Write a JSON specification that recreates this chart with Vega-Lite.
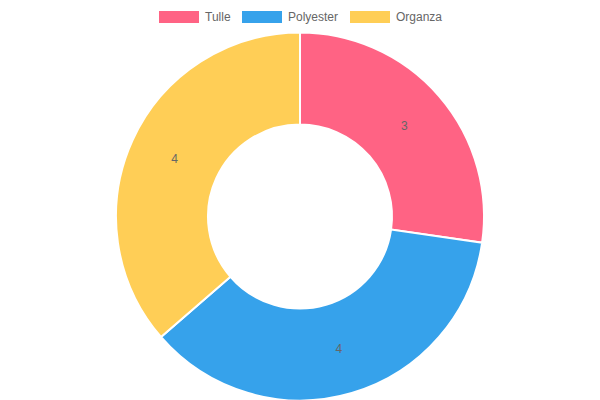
{
  "$schema": "https://vega.github.io/schema/vega-lite/v6.json",
  "autosize": {"type": "fit", "contains": "padding"},
  "width": 600,
  "height": 400,
  "padding": {"top": 33, "left": 0, "right": 0, "bottom": 0},
  "background": "white",
  "config": {"view": {"stroke": null}, "font": "Liberation Sans"},
  "data": {"values": [
    {"fabric": "Tulle", "count": 3, "idx": 1},
    {"fabric": "Polyester", "count": 4, "idx": 2},
    {"fabric": "Organza", "count": 4, "idx": 3}
  ]},
  "encoding": {
    "theta": {"field": "count", "type": "quantitative", "stack": true},
    "order": {"field": "idx", "type": "quantitative"},
    "color": {
      "field": "fabric", "type": "nominal",
      "scale": {"domain": ["Tulle", "Polyester", "Organza"], "range": ["#FF6384", "#36A2EB", "#FFCE56"]},
      "legend": {
        "orient": "none", "legendX": 159, "legendY": -36, "direction": "horizontal", "title": null,
        "symbolType": "M-1,-0.3H1V0.3H-1Z", "symbolSize": 1600,
        "symbolStrokeWidth": 0, "symbolOpacity": 1,
        "labelFontSize": 12, "labelColor": "#666666", "labelFont": "Liberation Sans",
        "columnPadding": 11, "labelOffset": 6, "padding": 0
      }
    }
  },
  "layer": [
    {"mark": {"type": "arc", "radius": 184, "innerRadius": 92, "stroke": "white", "strokeWidth": 2, "opacity": 1}},
    {"mark": {"type": "text", "radius": 138, "fontSize": 12, "color": "#666666", "font": "Liberation Sans"},
     "encoding": {"text": {"field": "count", "type": "quantitative"}, "color": {"value": "#666666"}}}
  ]
}
